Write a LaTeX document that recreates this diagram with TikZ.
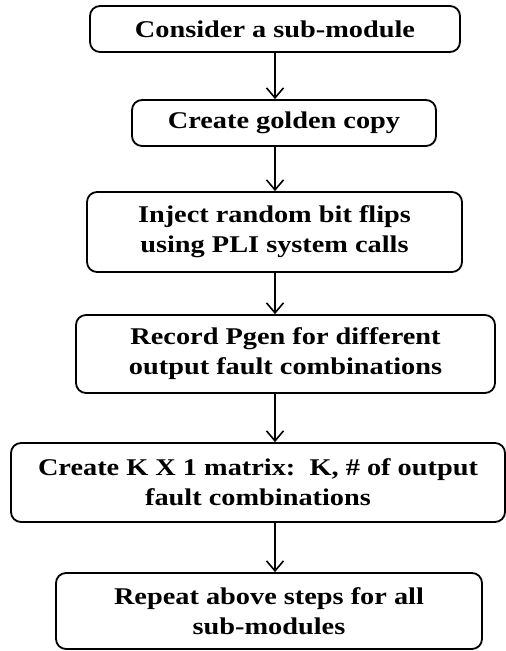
\documentclass[tikz,border=0pt]{standalone}
\usepackage{fontspec}
\setmainfont{Liberation Serif}[FakeStretch=1.18]
\usetikzlibrary{arrows.meta}
\tikzset{
  stepbox/.style={draw, line width=1.8pt, rounded corners=10pt, inner sep=0pt,
    align=center, font=\fontsize{24}{30}\selectfont\bfseries},
  arr/.style={line width=1.6pt, -{Straight Barb[length=10pt,width=17pt,line width=1.6pt]}}
}
\begin{document}
\begin{tikzpicture}[x=1pt,y=-1pt]
\useasboundingbox (0,0) rectangle (506,651);
\coordinate (ax) at (275,0);
\node[stepbox, minimum width=370pt, minimum height=46pt] (b1) at (275,29) {Consider a sub-module};
\node[stepbox, minimum width=304pt, minimum height=46pt] (b2) at (284,123) {Create golden copy};
\node[stepbox, minimum width=375pt, minimum height=80pt] (b3) at (274.5,232) {Inject random bit flips\\using PLI system calls};
\node[stepbox, minimum width=419pt, minimum height=78pt] (b4) at (285.5,354) {Record Pgen for different\\output fault combinations};
\node[stepbox, minimum width=494pt, minimum height=79pt] (b5) at (258,482.5) {Create K X 1 matrix:\ \ K, \# of output\\fault combinations};
\node[stepbox, minimum width=426pt, minimum height=76pt] (b6) at (269,611) {Repeat above steps for all\\sub-modules};
\draw[arr] (b1.south -| ax) -- (b2.north -| ax);
\draw[arr] (b2.south -| ax) -- (b3.north -| ax);
\draw[arr] (b3.south -| ax) -- (b4.north -| ax);
\draw[arr] (b4.south -| ax) -- (b5.north -| ax);
\draw[arr] (b5.south -| ax) -- (b6.north -| ax);
\end{tikzpicture}
\end{document}
